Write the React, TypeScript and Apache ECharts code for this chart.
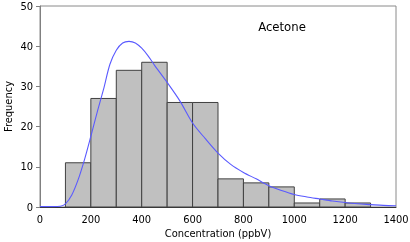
import React, { useEffect, useRef } from "react";
import * as echarts from "echarts";

const binStarts = [100, 200, 300, 400, 500, 600, 700, 800, 900, 1000, 1100, 1200];
const binWidth = 100;
const counts = [11, 27, 34, 36, 26, 26, 7, 6, 5, 1, 2, 1];
const curveX = [0, 50, 80, 100, 125, 150, 175, 200, 225, 250, 275, 300, 325, 350, 375, 400, 425, 450, 500, 550, 600, 650, 700, 750, 800, 850, 900, 950, 1000, 1050, 1100, 1150, 1200, 1250, 1300, 1350, 1400];
const curveY = [0.1, 0.1, 0.2, 0.8, 3.0, 6.8, 11.8, 17.6, 23.6, 29.3, 35.5, 39.0, 40.8, 41.2, 40.8, 39.5, 37.6, 35.3, 31.0, 26.4, 20.9, 17.0, 13.4, 10.6, 8.6, 7.0, 5.3, 4.1, 3.1, 2.5, 2.0, 1.5, 1.1, 0.8, 0.6, 0.4, 0.3];
const xTicks = [0, 200, 400, 600, 800, 1000, 1200, 1400];
const yTicks = [0, 10, 20, 30, 40, 50];
const title = "Acetone";
const xName = "Concentration (ppbV)";
const yName = "Frequency";

const FONT = "'DejaVu Sans Condensed', 'Liberation Sans', sans-serif";

export default function App() {
  const ref = useRef<HTMLDivElement>(null);
  useEffect(() => {
    if (!ref.current) return;
    const chart = echarts.init(ref.current, null, { renderer: "svg" });
    const histData = binStarts.map((s, i) => [s, s + binWidth, counts[i]]);
    chart.setOption({
      animation: false,
      title: {
        text: title,
        left: 277,
        top: 15,
        textAlign: "center",
        textStyle: { fontFamily: FONT, fontSize: 13, fontWeight: "normal", color: "#000" },
      },
      grid: {
        left: 40,
        right: 14,
        top: 6,
        bottom: 35,
        outerBoundsMode: "none",
        containLabel: false,
        show: true,
        borderColor: "#8a8a8a",
        borderWidth: 1,
        backgroundColor: "#fff",
      },
      xAxis: {
        type: "value",
        min: xTicks[0],
        max: xTicks[xTicks.length - 1],
        interval: 200,
        name: xName,
        nameLocation: "middle",
        nameGap: 21,
        nameMoveOverlap: false,
        nameTextStyle: { fontFamily: FONT, fontSize: 11, color: "#000" },
        axisLine: { show: true, lineStyle: { color: "#333", width: 1 } },
        axisTick: { show: false },
        splitLine: { show: false },
        axisLabel: { fontFamily: FONT, fontSize: 11, color: "#000", margin: 7, formatter: (v: number) => String(v) },
      },
      yAxis: {
        type: "value",
        min: yTicks[0],
        max: yTicks[yTicks.length - 1],
        interval: 10,
        name: yName,
        nameLocation: "middle",
        nameGap: 26,
        nameMoveOverlap: false,
        nameTextStyle: { fontFamily: FONT, fontSize: 11, color: "#000" },
        axisLine: { show: true, lineStyle: { color: "#808080", width: 1 } },
        axisTick: { show: true, length: 4, lineStyle: { color: "#808080" } },
        splitLine: { show: false },
        axisLabel: { fontFamily: FONT, fontSize: 11, color: "#000", margin: 7, formatter: (v: number) => String(v) },
      },
      series: [
        {
          type: "custom",
          data: histData,
          encode: { x: [0, 1], y: 2 },
          renderItem: (params: any, api: any) => {
            const x0 = api.value(0);
            const x1 = api.value(1);
            const y = api.value(2);
            const p0 = api.coord([x0, y]);
            const p1 = api.coord([x1, 0]);
            return {
              type: "rect",
              shape: { x: p0[0], y: p0[1], width: p1[0] - p0[0], height: p1[1] - p0[1] },
              style: { fill: "#c0c0c0", stroke: "#404040", lineWidth: 1 },
            };
          },
          z: 2,
        },
        {
          type: "line",
          data: curveX.map((x, i) => [x, curveY[i]]),
          smooth: 0.3,
          showSymbol: false,
          lineStyle: { color: "#5a5aff", width: 1.1 },
          z: 3,
        },
      ],
    });
    return () => chart.dispose();
  }, []);
  return (
    <div
      ref={ref}
      style={{ position: "fixed", left: 0, top: 0, width: 410, height: 242 }}
    />
  );
}
